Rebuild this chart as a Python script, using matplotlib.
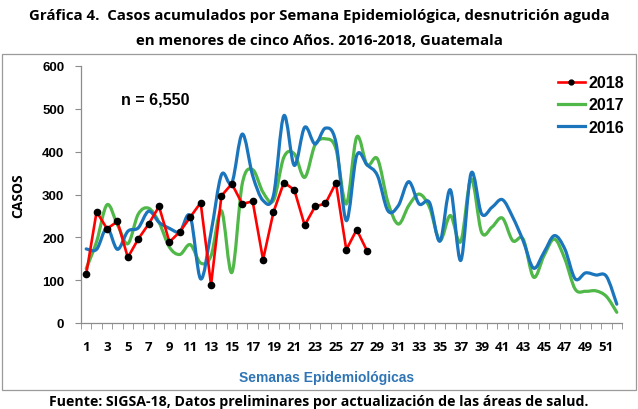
import matplotlib
matplotlib.use("Agg")
import matplotlib.pyplot as plt
from matplotlib.path import Path
from matplotlib.patches import PathPatch, Rectangle
from matplotlib.lines import Line2D

weeks = list(range(1, 53))
cases_2018 = [114, 260, 220, 237, 153, 196, 231, 272, 189, 213, 247, 281, 89, 297,
              325, 278, 284, 148, 259, 328, 311, 228, 272, 279, 327, 171, 218, 168]
cases_2017 = [127, 190, 276, 230, 185, 254, 268, 235, 177, 160, 183, 140, 157, 262,
              118, 325, 358, 305, 286, 387, 395, 340, 416, 430, 407, 278, 434, 369,
              383, 282, 231, 274, 301, 270, 193, 251, 190, 336, 212, 224, 245, 192,
              196, 107, 157, 196, 150, 79, 74, 75, 62, 25]
cases_2016 = [173, 172, 222, 172, 214, 222, 261, 235, 221, 213, 249, 103, 212, 346,
              327, 441, 344, 286, 298, 484, 368, 457, 418, 455, 422, 239, 391, 369,
              344, 262, 274, 330, 278, 281, 191, 311, 146, 350, 255, 270, 288, 247,
              192, 128, 165, 204, 173, 103, 117, 112, 109, 44]
ytick_vals = [0, 100, 200, 300, 400, 500, 600]
xtick_labels = list(range(1, 52, 2))

c_red = "#FF0000"
c_green = "#50B848"
c_blue = "#1B75BC"


def smooth_path(xs, ys):
    pts = list(zip(xs, ys))
    verts = [pts[0]]
    codes = [Path.MOVETO]
    n = len(pts)
    for i in range(n - 1):
        p0 = pts[i - 1] if i > 0 else pts[i]
        p1 = pts[i]
        p2 = pts[i + 1]
        p3 = pts[i + 2] if i + 2 < n else pts[i + 1]
        c1 = (p1[0] + (p2[0] - p0[0]) / 6, p1[1] + (p2[1] - p0[1]) / 6)
        c2 = (p2[0] - (p3[0] - p1[0]) / 6, p2[1] - (p3[1] - p1[1]) / 6)
        verts += [c1, c2, p2]
        codes += [Path.CURVE4] * 3
    return Path(verts, codes)


fig = plt.figure(figsize=(6.38, 4.10), dpi=100)
ax = fig.add_axes([81 / 638, 86 / 410, 541 / 638, 257 / 410])

# box around chart
fig.patches.append(Rectangle((2 / 638, 19 / 410), 634 / 638, 336 / 410,
                             transform=fig.transFigure, fill=False,
                             edgecolor="#9a9a9a", linewidth=0.9))

for vals, col in [(cases_2017, c_green), (cases_2016, c_blue)]:
    p = smooth_path(weeks[:len(vals)], vals)
    ax.add_patch(PathPatch(p, fill=False, edgecolor=col, linewidth=2.3,
                           capstyle="round", joinstyle="round"))

ax.plot(weeks[:len(cases_2018)], cases_2018, color=c_red, linewidth=1.9,
        marker="o", markersize=4.5, markerfacecolor="black",
        markeredgecolor="black", zorder=5)

ax.set_xlim(0.5, 52.5)
ax.set_ylim(0, 600)
ax.set_yticks(ytick_vals)
ax.set_yticklabels([str(v) for v in ytick_vals], fontweight="bold",
                   fontsize=9.5, family="Liberation Sans")
ax.set_xticks(xtick_labels)
ax.set_xticklabels([str(v) for v in xtick_labels], fontweight="bold",
                   fontsize=9.5, family="Open Sans")
ax.set_xticks([i + 0.5 for i in range(0, 53)], minor=True)
ax.tick_params(axis="x", which="major", length=0, pad=12)
ax.tick_params(axis="x", which="minor", length=4, color="#8c8c8c", direction="out")
ax.tick_params(axis="y", length=4, color="#8c8c8c", pad=8)
for s in ["top", "right"]:
    ax.spines[s].set_visible(False)
for s in ["left", "bottom"]:
    ax.spines[s].set_color("#8c8c8c")
    ax.spines[s].set_linewidth(0.9)

ax.set_ylabel("CASOS", fontweight="bold", fontsize=10, family="Open Sans",
              labelpad=12)
ax.text(4.3, 523, "n = 6,550", fontweight="bold", fontsize=11.5,
        family="Liberation Sans", va="center")

handles = [Line2D([], [], color=c_red, linewidth=1.9, marker="o", markersize=3.5,
                  markerfacecolor="black", markeredgecolor="black"),
           Line2D([], [], color=c_green, linewidth=2.3),
           Line2D([], [], color=c_blue, linewidth=2.3)]
leg = ax.legend(handles, ["2018", "2017", "2016"], loc="upper right",
                bbox_to_anchor=(1.03, 1.02), frameon=False, handlelength=1.7,
                handletextpad=0.2, labelspacing=0.45,
                prop={"family": "Liberation Sans", "weight": "bold", "size": 11.5})

fig.text(0.512, 1 - 378 / 410, "Semanas Epidemiológicas", color="#2F75B5",
         fontweight="bold", fontsize=10, family="Liberation Sans",
         ha="center", va="center")
fig.text(0.5, 1 - 16 / 410,
         "Gráfica 4.  Casos acumulados por Semana Epidemiológica, desnutrición aguda",
         fontweight="bold", fontsize=10.8, family="Open Sans", ha="center", va="center")
fig.text(0.5, 1 - 41 / 410, "en menores de cinco Años. 2016-2018, Guatemala",
         fontweight="bold", fontsize=10.8, family="Open Sans", ha="center", va="center")
fig.text(0.5, 1 - 402 / 410,
         "Fuente: SIGSA-18, Datos preliminares por actualización de las áreas de salud.",
         fontweight="bold", fontsize=10.2, family="Open Sans", ha="center", va="center")

fig.savefig("out.png", dpi=100)
